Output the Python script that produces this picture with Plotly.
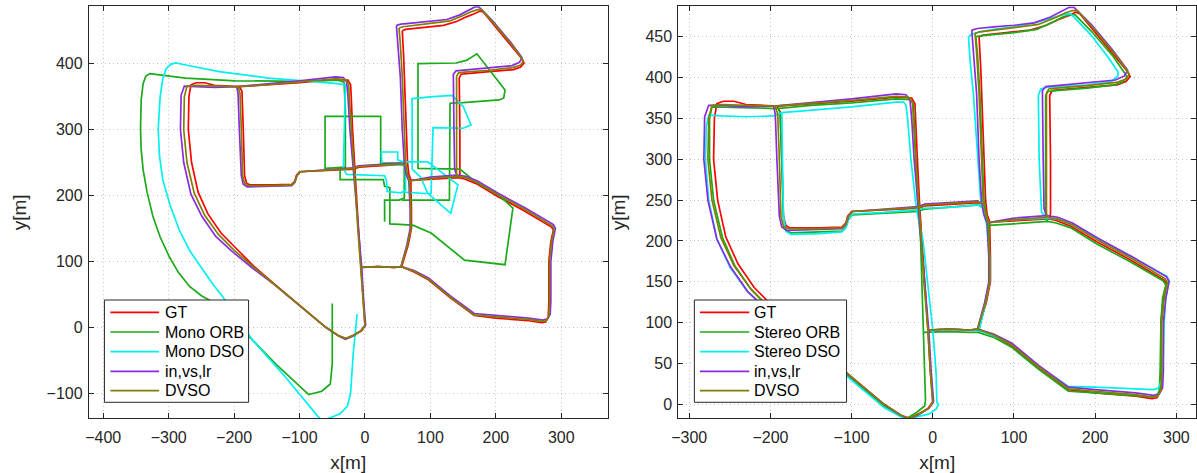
import plotly.graph_objects as go

# ---------------- data (metres) ----------------
GT = [(0,3),(-3,40),(-6,91),(-10,150),(-13,200),(-16,240),(-19,300),(-21,350),(-22,368),(-26,375),(-45,376),(-100,371),(-150,368),(-192,365),(-230,367),(-245,371),(-258,371),(-266,368),(-269,350),(-270,300),(-265,250),(-255,205),(-240,172),(-220,143),(-197,120),(-170,93),(-140,67),(-100,33),(-60,0),(-40,-13),(-29,-17),(-18,-12),(-6,-5),(0,3),
      None,
      (-192,365),(-188,358),(-186,300),(-184,230),(-181,219),(-176,216),(-140,216),(-112,217),(-107,222),(-105,230),(-100,236),(-60,238),(-16,240),(-10,243),(20,245),(45,247),(57,247),(62,244),
      None,
      (57,450),(59,413),(62,332),(64,280),(65,250),(67,232),(70,224),(71,180),(71,150),(66,125),(56,92),
      None,
      (-6,91),(20,92),(45,91),(56,92),(75,84),(97,72),(130,45),(167,18),(200,14),(250,10),(270,7),(276,8),(280,15),(281,40),(281,100),(284,130),(288,148),(285,152),(243,177),(202,199),(170,218),(152,225),(143,227),(100,225),(70,223),
      None,
      (143,227),(145,233),(145,300),(144,378),(147,384),(155,385),(190,388),(227,391),(238,395),(243,401),(240,407),(225,425),(200,455),(181,478),(176,480),(168,476),(155,471),(140,464),(120,458),(100,456),(75,454),(62,452),(57,450)]

INVSLR = [(1,3),(-2,40),(-5,91),(-10,150),(-14,200),(-18,242),(-23,300),(-26,350),(-28,372),(-33,379),(-45,380),(-100,374),(-150,369),(-196,365),(-230,364),(-260,366),(-276,366),(-281,352),(-282,300),(-277,250),(-266,202),(-249,168),(-228,138),(-204,116),(-172,90),(-140,66),(-100,33),(-60,0),(-40,-13),(-30,-18),(-18,-13),(-5,-5),(1,3),
          None,
          (-196,365),(-194,355),(-192,300),(-189,230),(-186,217),(-180,213),(-140,214),(-112,215),(-107,220),(-104,230),(-99,236),(-60,239),(-18,242),(-10,245),(20,247),(45,249),(55,249),(60,246),
          None,
          (48,458),(50,430),(54,380),(57,300),(60,250),(63,232),(67,222),(69,180),(69,150),(64,125),(55,92),
          None,
          (-5,91),(20,92),(45,91),(55,92),(75,86),(97,75),(130,48),(167,21),(200,18),(250,14),(272,11),(279,13),(283,20),(284,40),(284,100),(287,130),(291,150),(288,156),(245,181),(204,203),(172,222),(154,229),(140,231),(100,228),(67,222),
          None,
          (140,231),(137,240),(136,300),(135,384),(139,389),(150,390),(190,393),(225,397),(236,402),(240,409),(237,413),(222,433),(195,465),(174,486),(168,486),(160,482),(145,474),(125,467),(100,464),(75,462),(55,460),(48,458)]

DVSO = [(0,3),(-3,40),(-6,91),(-11,150),(-14,200),(-17,241),(-21,300),(-24,350),(-25,370),(-30,376),(-45,377),(-100,372),(-150,368),(-194,365),(-230,366),(-258,367),(-272,366),(-276,350),(-277,300),(-272,250),(-261,204),(-245,170),(-224,141),(-201,118),(-171,92),(-140,66),(-100,33),(-60,0),(-40,-13),(-29,-17),(-17,-12),(-5,-5),(0,3),
        None,
        (-194,365),(-191,355),(-189,300),(-187,230),(-184,218),(-178,215),(-140,215),(-112,216),(-107,221),(-104,230),(-99,236),(-60,238),(-17,241),(-10,244),(20,246),(45,248),(56,248),(61,245),
        None,
        (52,454),(54,430),(57,380),(60,300),(62,250),(65,232),(68,223),(70,180),(70,150),(65,125),(55,92),
        None,
        (-6,91),(20,92),(45,91),(55,92),(75,85),(97,73),(130,46),(167,19),(200,16),(250,12),(271,9),(277,10),(281,17),(282,40),(282,100),(285,130),(289,149),(286,154),(244,179),(203,201),(171,220),(153,227),(141,229),(100,226),(68,222),
        None,
        (141,229),(140,235),(140,300),(140,381),(143,386),(152,387),(190,390),(226,394),(238,398),(242,404),(239,409),(224,429),(198,460),(178,482),(172,482),(163,479),(150,473),(130,465),(100,461),(75,458),(58,456),(52,454)]

MONO_ORB = [(-50,36),(-50,-55),(-53,-86),(-66,-97),(-86,-102),(-112,-78),(-137,-55),(-177,-14),(-228,36),(-250,48),(-268,62),(-285,83),(-299,107),(-313,137),(-324,168),(-333,205),(-339,239),(-342,270),(-343,300),(-342,345),(-339,370),(-335,381),(-329,385),(-314,383),(-274,378),(-198,374),(-96,373),(-41,375),(-32,372),(-30,330),(-30,243),
            (-61,241),(-61,320),(24,320),(24,249),(60,249),(60,243),(60,196),(52,193),(30,193),(30,160),
            None,
            (-38,240),(-38,224),(28,224),(30,214),(38,212),(38,157),(73,155),(101,143),(152,102),(214,95),(226,181),(205,200),(170,220),(145,240),(81,241),(81,400),(139,401),(155,405),(171,415),(214,360),(212,348),(205,345),(150,341),(130,340),(129,193),(56,193)]

MONO_DSO = [(-12,20),(-18,-40),(-22,-100),(-27,-120),(-38,-131),(-55,-138),(-65,-142),(-72,-135),(-122,-75),(-172,-19),(-218,47),(-233,66),(-248,87),(-267,115),(-284,148),(-298,186),(-309,224),(-314,260),(-316,300),(-313,350),(-309,377),(-304,392),(-297,399),(-289,401),(-274,398),(-223,388),(-147,378),(-80,373),(-46,370),(-30,368),(-31,330),(-33,240),(-28,232),(30,230),(33,222),(34,206),(55,204),(62,208),(62,245),(48,247),(26,246),(25,266),(50,266),(50,254),(58,251),(68,251),(96,251),(142,216),(131,173),(96,203),(85,228),(72,240),(72,347),(105,350),(133,352),(150,335),(162,307),(150,302),(104,303),(101,203),(92,203),(60,205)]

STEREO_ORB = [(-9,5),(-10,40),(-11,91),(-13,150),(-15,200),(-18,238),(-21,300),(-23,350),(-24,368),(-28,373),(-45,374),(-100,369),(-150,366),(-192,362),(-230,363),(-258,364),(-272,364),(-275,350),(-275,300),(-270,250),(-259,204),(-244,170),(-224,141),(-201,117),(-171,91),(-140,65),(-100,31),(-60,-2),(-40,-14),(-32,-17),(-20,-10),(-10,-2),(-9,5),
              None,
              (-190,362),(-188,355),(-186,300),(-184,230),(-181,213),(-175,210),(-140,211),(-112,212),(-107,217),(-104,226),(-99,232),(-60,234),(-18,236),(-10,239),(20,241),(45,243),(56,244),(61,241),
              None,
              (53,450),(55,430),(58,380),(61,300),(63,250),(66,232),(69,220),(70,180),(70,150),(65,125),(56,88),
              None,
              (-11,88),(20,89),(45,88),(56,88),(75,82),(97,70),(130,43),(167,16),(200,14),(250,11),(270,9),(276,10),(279,17),(280,40),(281,100),(283,130),(287,146),(284,151),(242,175),(201,197),(170,216),(152,222),(141,224),(100,221),(69,219),
              None,
              (141,224),(139,230),(139,300),(139,378),(142,383),(151,384),(190,387),(224,391),(235,395),(239,401),(236,406),(222,426),(196,456),(175,477),(169,477),(160,474),(148,468),(128,459),(100,455),(75,453),(58,451),(53,450)]

STEREO_DSO = [(5,2),(4,40),(0,91),(-6,150),(-12,200),(-20,238),(-27,300),(-31,350),(-33,366),(-36,370),(-45,370),(-100,364),(-150,360),(-186,357),(-196,353),(-230,352),(-260,353),(-276,354),(-279,340),(-280,300),(-276,250),(-266,203),(-250,168),(-228,138),(-204,115),(-173,89),(-140,63),(-100,29),(-60,-4),(-40,-15),(-32,-18),(-19,-15),(-5,-12),(4,-6),(7,0),(5,2),
              None,
              (-186,357),(-185,300),(-184,230),(-181,212),(-175,208),(-140,209),(-112,211),(-107,216),(-104,226),(-99,233),(-60,235),(-20,238),(-12,240),(20,241),(45,243),(57,244),(62,240),
              None,
              (44,450),(46,420),(50,380),(55,300),(59,250),(63,232),(66,222),(70,180),(70,150),(65,125),(57,90),
              None,
              (0,91),(20,92),(45,91),(57,90),(75,84),(97,74),(130,47),(167,22),(200,21),(250,19),(272,18),(278,20),(282,30),(284,60),(285,100),(287,130),(291,152),(288,157),(246,180),(204,202),(172,220),(153,227),(140,228),(100,226),(66,222),
              None,
              (140,228),(134,235),(131,300),(130,378),(133,386),(140,388),(190,391),(220,395),(228,402),(228,407),(218,422),(195,452),(170,478),(164,478),(150,474),(130,468),(100,462),(75,459),(58,456),(48,453),(44,450)]

LEFT_X_TICKS = [-400, -300, -200, -100, 0, 100, 200, 300]
LEFT_Y_TICKS = [-100, 0, 100, 200, 300, 400]
RIGHT_X_TICKS = [-300, -200, -100, 0, 100, 200, 300]
RIGHT_Y_TICKS = [0, 50, 100, 150, 200, 250, 300, 350, 400, 450]

LEFT_NAMES = ["GT", "Mono ORB", "Mono DSO", "in,vs,lr", "DVSO"]
RIGHT_NAMES = ["GT", "Stereo ORB", "Stereo DSO", "in,vs,lr", "DVSO"]
COLORS = ["#ff0000", "#1aaa1a", "#00f0f0", "#8a2be2", "#808000"]

LEFT_SERIES = [GT, MONO_ORB, MONO_DSO, INVSLR, DVSO]
RIGHT_SERIES = [GT, STEREO_ORB, STEREO_DSO, INVSLR, DVSO]


def split(pts):
    xs, ys = [], []
    for p in pts:
        if p is None:
            xs.append(None); ys.append(None)
        else:
            xs.append(p[0]); ys.append(p[1])
    return xs, ys


W, H = 1197, 473
LW = 1.7
fig = go.Figure()

for name, pts, col in zip(LEFT_NAMES, LEFT_SERIES, COLORS):
    x, y = split(pts)
    fig.add_trace(go.Scatter(x=x, y=y, mode="lines", name=name, xaxis="x", yaxis="y",
                             line=dict(color=col, width=LW), showlegend=False,
                             connectgaps=False))
for name, pts, col in zip(RIGHT_NAMES, RIGHT_SERIES, COLORS):
    x, y = split(pts)
    fig.add_trace(go.Scatter(x=x, y=y, mode="lines", name=name, xaxis="x2", yaxis="y2",
                             line=dict(color=col, width=LW), showlegend=False,
                             connectgaps=False))

FONT = "Liberation Sans, Arial, Helvetica, sans-serif"
axis_common = dict(showline=True, linecolor="#262626", linewidth=1, mirror="ticks",
                   ticks="inside", ticklen=5, tickcolor="#262626", showgrid=True,
                   gridcolor="#c4c4c4", griddash="1px,3px", gridwidth=1, zeroline=False,
                   tickfont=dict(family=FONT, size=16, color="#262626"))

# ---- legends drawn in paper space (MATLAB style boxes) ----
shapes, annotations = [], []


def px(x):
    return x / W


def py(y):
    return (H - y) / H


def add_legend(names, box_l, box_r, line_l, line_r, text_l):
    shapes.append(dict(type="rect", xref="paper", yref="paper",
                       x0=px(box_l), x1=px(box_r), y0=py(402.3), y1=py(300),
                       line=dict(color="#262626", width=1), fillcolor="white", layer="above"))
    rows = [312.3, 332.0, 351.7, 371.3, 390.7]
    for name, col, r in zip(names, COLORS, rows):
        shapes.append(dict(type="line", xref="paper", yref="paper",
                           x0=px(line_l), x1=px(line_r), y0=py(r), y1=py(r),
                           line=dict(color=col, width=LW), layer="above"))
        annotations.append(dict(text=name, xref="paper", yref="paper", x=px(text_l), y=py(r),
                                xanchor="left", yanchor="middle", showarrow=False,
                                font=dict(family=FONT, size=16, color="#000000")))


add_legend(LEFT_NAMES, 98, 243, 104, 153, 157)
add_legend(RIGHT_NAMES, 691.4, 844.5, 697, 746.6, 749.5)

fig.update_layout(
    width=W, height=H, margin=dict(l=0, r=0, t=0, b=0),
    paper_bgcolor="white", plot_bgcolor="white",
    font=dict(family=FONT, size=16, color="#262626"),
    xaxis=dict(domain=[0.06876, 0.50485], range=[-422, 371], tickvals=LEFT_X_TICKS,
               ticklabelstandoff=4,
               title=dict(text="x[m]", standoff=14), anchor="y", **axis_common),
    yaxis=dict(domain=[0.11564, 0.98668], range=[-138, 487], tickvals=LEFT_Y_TICKS,
               ticklabelstandoff=2,
               title=dict(text="y[m]", standoff=14), anchor="x", **axis_common),
    xaxis2=dict(domain=[0.56416, 0.9993], range=[-313.4, 324.4], tickvals=RIGHT_X_TICKS,
                ticklabelstandoff=4,
                title=dict(text="x[m]", standoff=14), anchor="y2", **axis_common),
    yaxis2=dict(domain=[0.11564, 0.98668], range=[-17.1, 487.2], tickvals=RIGHT_Y_TICKS,
                ticklabelstandoff=2,
                title=dict(text="y[m]", standoff=14), anchor="x2", **axis_common),
    shapes=shapes, annotations=annotations, showlegend=False,
)

fig.write_html("out.html")
